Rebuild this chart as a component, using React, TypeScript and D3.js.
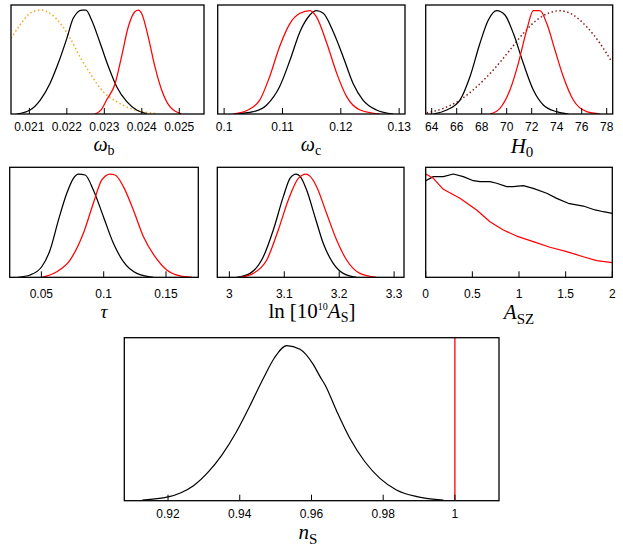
import React from 'react';
import * as d3 from 'd3';

type Pt = [number, number];

// ---------- data ----------
const wbTicks = [0.021, 0.022, 0.023, 0.024, 0.025];
const wbTickLabels = ['0.021', '0.022', '0.023', '0.024', '0.025'];
const wbBlack: Pt[] = [[0.02066,0],[0.02102,0.037],[0.02129,0.128],[0.02155,0.28],[0.02177,0.465],[0.0220,0.694],[0.02217,0.878],[0.0224,0.954],[0.02251,0.954],[0.02266,0.862],[0.02289,0.649],[0.02311,0.434],[0.02333,0.25],[0.0236,0.113],[0.02386,0.037],[0.02413,0.004]];
const wbRed: Pt[] = [[0.02275,0],[0.02292,0.04],[0.02306,0.128],[0.02329,0.28],[0.02346,0.526],[0.02364,0.80],[0.02382,0.94],[0.02391,0.954],[0.024,0.92],[0.02417,0.71],[0.02435,0.434],[0.02453,0.22],[0.02475,0.067],[0.02506,0]];
const wbPrior: Pt[] = [[0.02051,0.694],[0.02075,0.816],[0.02102,0.924],[0.02129,0.954],[0.02155,0.924],[0.02186,0.816],[0.02209,0.694],[0.02235,0.526],[0.02262,0.373],[0.02297,0.205],[0.02333,0.113],[0.02369,0.052],[0.02404,0.021],[0.0244,0.003]];

const wcTicks = [0.1, 0.11, 0.12, 0.13];
const wcTickLabels = ['0.1', '0.11', '0.12', '0.13'];
const wcBlack: Pt[] = [[0.1018,0],[0.105,0.021],[0.1073,0.083],[0.1095,0.25],[0.1113,0.495],[0.113,0.755],[0.1147,0.908],[0.1158,0.948],[0.117,0.924],[0.1187,0.755],[0.1204,0.526],[0.1221,0.28],[0.1238,0.128],[0.1261,0.037],[0.129,0]];
const wcRed: Pt[] = [[0.1015,0],[0.1038,0.03],[0.1061,0.128],[0.1078,0.342],[0.1095,0.617],[0.1113,0.832],[0.113,0.924],[0.1147,0.948],[0.1158,0.893],[0.1176,0.649],[0.1193,0.373],[0.121,0.159],[0.1233,0.037],[0.1267,0]];

const h0Ticks = [64, 66, 68, 70, 72, 74, 76, 78];
const h0TickLabels = ['64', '66', '68', '70', '72', '74', '76', '78'];
const h0Black: Pt[] = [[64.13,0],[65.2,0.037],[66.26,0.128],[67.06,0.342],[67.86,0.649],[68.53,0.862],[69.2,0.948],[69.86,0.908],[70.53,0.74],[71.33,0.465],[72.13,0.22],[72.93,0.083],[74,0.021],[74.93,0]];
const h0Red: Pt[] = [[68.66,0],[69.46,0.052],[70.26,0.22],[70.93,0.465],[71.6,0.77],[72.13,0.948],[72.66,0.948],[73.2,0.832],[73.86,0.587],[74.53,0.342],[75.33,0.128],[76.4,0.021],[77.46,0]];
const h0Prior: Pt[] = [[63.6,0.01],[64.93,0.052],[66.26,0.128],[67.6,0.25],[68.93,0.404],[70.26,0.587],[71.33,0.74],[72.4,0.862],[73.46,0.93],[74.26,0.948],[75.33,0.908],[76.4,0.80],[77.46,0.649],[78.4,0.48]];

const tauTicks = [0.05, 0.1, 0.15];
const tauTickLabels = ['0.05', '0.1', '0.15'];
const tauBlack: Pt[] = [[0.0315,0],[0.0409,0.021],[0.0503,0.096],[0.057,0.248],[0.0637,0.52],[0.0704,0.764],[0.0757,0.9],[0.0797,0.939],[0.0851,0.93],[0.0917,0.794],[0.0998,0.551],[0.1078,0.309],[0.1158,0.142],[0.1266,0.036],[0.1399,0]];
const tauRed: Pt[] = [[0.0503,0],[0.0624,0.051],[0.073,0.157],[0.0837,0.4],[0.0917,0.673],[0.0985,0.885],[0.1051,0.939],[0.1092,0.93],[0.1158,0.824],[0.1238,0.612],[0.1319,0.369],[0.1412,0.187],[0.1506,0.066],[0.1613,0.012],[0.1707,0]];

const asTicks = [3, 3.1, 3.2, 3.3];
const asTickLabels = ['3', '3.1', '3.2', '3.3'];
const asBlack: Pt[] = [[3.0135,0],[3.0376,0.036],[3.0618,0.187],[3.08,0.43],[3.0982,0.733],[3.1104,0.9],[3.1213,0.939],[3.1285,0.92],[3.1407,0.794],[3.1558,0.551],[3.1709,0.309],[3.1891,0.127],[3.2073,0.036],[3.2316,0]];
const asRed: Pt[] = [[3.0195,0],[3.0436,0.036],[3.068,0.157],[3.0891,0.43],[3.1073,0.703],[3.1255,0.9],[3.1395,0.939],[3.1467,0.92],[3.1589,0.824],[3.1771,0.58],[3.1953,0.339],[3.2135,0.157],[3.2376,0.036],[3.268,0]];

const aszTicks = [0, 0.5, 1, 1.5, 2];
const aszTickLabels = ['0', '0.5', '1', '1.5', '2'];
const aszBlack: Pt[] = [[0,0.878],[0.082,0.915],[0.189,0.915],[0.296,0.939],[0.403,0.915],[0.51,0.878],[0.582,0.869],[0.689,0.869],[0.761,0.855],[0.868,0.824],[0.939,0.824],[1.046,0.833],[1.153,0.809],[1.297,0.764],[1.404,0.718],[1.528,0.673],[1.689,0.648],[1.815,0.612],[1.904,0.596],[2,0.582]];
const aszRed: Pt[] = [[0,0.939],[0.082,0.9],[0.189,0.8],[0.367,0.718],[0.546,0.612],[0.689,0.505],[0.832,0.43],[0.975,0.375],[1.153,0.324],[1.332,0.273],[1.511,0.233],[1.689,0.187],[1.833,0.151],[2,0.133]];

const nsTicks = [0.92, 0.94, 0.96, 0.98, 1];
const nsTickLabels = ['0.92', '0.94', '0.96', '0.98', '1'];
const nsBlack: Pt[] = [[0.9128,0.004],[0.92,0.023],[0.9236,0.049],[0.9271,0.092],[0.9313,0.178],[0.935,0.28],[0.939,0.42],[0.9427,0.577],[0.9466,0.751],[0.9496,0.874],[0.9531,0.951],[0.9568,0.929],[0.9604,0.839],[0.9624,0.761],[0.9638,0.71],[0.9671,0.546],[0.9707,0.383],[0.9749,0.239],[0.9791,0.137],[0.9837,0.066],[0.9894,0.025],[0.9968,0.004]];
const nsReference = 1;

// ---------- styles ----------
const RED = '#ff0000';
const ORANGE = '#f5a623';
const DARKRED = '#8b1c1c';
const SANS = '"Liberation Sans", Arial, Helvetica, sans-serif';
const SERIF = '"Liberation Serif", "Times New Roman", serif';

type Series = { data: Pt[]; color: string; dash?: string; width?: number; linear?: boolean };

type PanelProps = {
  id: string;
  x0: number; x1: number; y0: number; y1: number;
  domain: [number, number];
  ticks: number[];
  tickLabels: string[];
  tickBaseline: number;
  series: Series[];
  vline?: number;
  children?: React.ReactNode;
};

function Panel(p: PanelProps) {
  const xs = d3.scaleLinear().domain(p.domain).range([p.x0, p.x1]);
  const ys = d3.scaleLinear().domain([0, 1]).range([p.y1, p.y0]);
  return (
    <g>
      <clipPath id={p.id}>
        <rect x={p.x0} y={p.y0} width={p.x1 - p.x0} height={p.y1 - p.y0} />
      </clipPath>
      <g clipPath={`url(#${p.id})`}>
        {p.series.map((s, i) => {
          const line = d3.line<Pt>()
            .x(d => xs(d[0]))
            .y(d => ys(d[1]))
            .curve(s.linear ? d3.curveLinear : d3.curveMonotoneX);
          return (
            <path key={i} d={line(s.data) || ''} fill="none" stroke={s.color}
              strokeWidth={s.width ?? 1.25} strokeDasharray={s.dash} strokeLinejoin="round" />
          );
        })}
        {p.vline !== undefined && (
          <line x1={xs(p.vline)} x2={xs(p.vline)} y1={p.y0} y2={p.y1} stroke={RED} strokeWidth={1.3} />
        )}
      </g>
      {p.ticks.map((t, i) => (
        <g key={i}>
          <line x1={xs(t)} x2={xs(t)} y1={p.y1} y2={p.y1 - 6} stroke="#000" strokeWidth={1} />
          <text x={xs(t)} y={p.tickBaseline} textAnchor="middle" fontFamily={SANS} fontSize={12} fill="#000">
            {p.tickLabels[i]}
          </text>
        </g>
      ))}
      <rect x={p.x0} y={p.y0} width={p.x1 - p.x0} height={p.y1 - p.y0} fill="none" stroke="#000" strokeWidth={1.3} />
      {p.children}
    </g>
  );
}

export default function App() {
  return (
    <svg width={623} height={545} style={{ position: 'absolute', left: 0, top: 0, background: '#fff' }}>
      <rect x={0} y={0} width={623} height={545} fill="#fff" />
      {/* top row */}
      <Panel id="c1" x0={11} x1={204} y0={5} y1={114} domain={[0.02051, 0.02566]}
        ticks={wbTicks} tickLabels={wbTickLabels} tickBaseline={130.5}
        series={[
          { data: wbPrior, color: ORANGE, dash: '1.5 2.5', width: 1.5 },
          { data: wbBlack, color: '#000' },
          { data: wbRed, color: RED },
        ]}>
        <text x={104} y={151} textAnchor="middle" fontFamily={SERIF} fontSize={20}>
          <tspan fontStyle="italic">ω</tspan><tspan fontSize={14} dy={4}>b</tspan>
        </text>
      </Panel>
      <Panel id="c2" x0={217.7} x1={405} y0={5} y1={114} domain={[0.0989, 0.1310]}
        ticks={wcTicks} tickLabels={wcTickLabels} tickBaseline={130.5}
        series={[
          { data: wcBlack, color: '#000' },
          { data: wcRed, color: RED },
        ]}>
        <text x={311} y={151} textAnchor="middle" fontFamily={SERIF} fontSize={20}>
          <tspan fontStyle="italic">ω</tspan><tspan fontSize={14} dy={4}>c</tspan>
        </text>
      </Panel>
      <Panel id="c3" x0={425.7} x1={612.7} y0={5} y1={114} domain={[63.52, 78.48]}
        ticks={h0Ticks} tickLabels={h0TickLabels} tickBaseline={130.5}
        series={[
          { data: h0Prior, color: DARKRED, dash: '1.5 2.5', width: 1.5 },
          { data: h0Black, color: '#000' },
          { data: h0Red, color: RED },
        ]}>
        <text x={522} y={152.5} textAnchor="middle" fontFamily={SERIF} fontSize={21}>
          <tspan fontStyle="italic">H</tspan><tspan fontSize={15} dy={4}>0</tspan>
        </text>
      </Panel>

      {/* middle row */}
      <Panel id="c4" x0={9.7} x1={198.3} y0={167.3} y1={277.3} domain={[0.0246, 0.1759]}
        ticks={tauTicks} tickLabels={tauTickLabels} tickBaseline={297.5}
        series={[
          { data: tauBlack, color: '#000' },
          { data: tauRed, color: RED },
        ]}>
        <text x={104} y={317.5} textAnchor="middle" fontFamily={SERIF} fontSize={19}>
          <tspan fontStyle="italic">τ</tspan>
        </text>
      </Panel>
      <Panel id="c5" x0={217.3} x1={404} y0={167.3} y1={277.3} domain={[2.978, 3.318]}
        ticks={asTicks} tickLabels={asTickLabels} tickBaseline={297.5}
        series={[
          { data: asBlack, color: '#000' },
          { data: asRed, color: RED },
        ]}>
        <text x={312} y={318} textAnchor="middle" fontFamily={SERIF} fontSize={21}>
          <tspan>ln</tspan>
          <tspan dx={5}>[10</tspan>
          <tspan fontSize={10} dy={-8}>10</tspan>
          <tspan fontStyle="italic" dy={8}>A</tspan>
          <tspan fontSize={14} dy={4}>S</tspan>
          <tspan dy={-4}>]</tspan>
        </text>
      </Panel>
      <Panel id="c6" x0={425.7} x1={612.3} y0={167.3} y1={277.3} domain={[0, 2]}
        ticks={aszTicks} tickLabels={aszTickLabels} tickBaseline={297.5}
        series={[
          { data: aszBlack, color: '#000', linear: true },
          { data: aszRed, color: RED, linear: true },
        ]}>
        <text x={519} y={319} textAnchor="middle" fontFamily={SERIF} fontSize={21}>
          <tspan fontStyle="italic">A</tspan><tspan fontSize={15} dy={5}>SZ</tspan>
        </text>
      </Panel>

      {/* bottom */}
      <Panel id="c7" x0={124.3} x1={499} y0={337.7} y1={500.7} domain={[0.9078, 1.0123]}
        ticks={nsTicks} tickLabels={nsTickLabels} tickBaseline={518}
        series={[{ data: nsBlack, color: '#000', width: 1.2 }]}
        vline={nsReference}>
        <text x={308} y={538.5} textAnchor="middle" fontFamily={SERIF} fontSize={21}>
          <tspan fontStyle="italic">n</tspan><tspan fontSize={15} dy={5}>S</tspan>
        </text>
      </Panel>
    </svg>
  );
}
